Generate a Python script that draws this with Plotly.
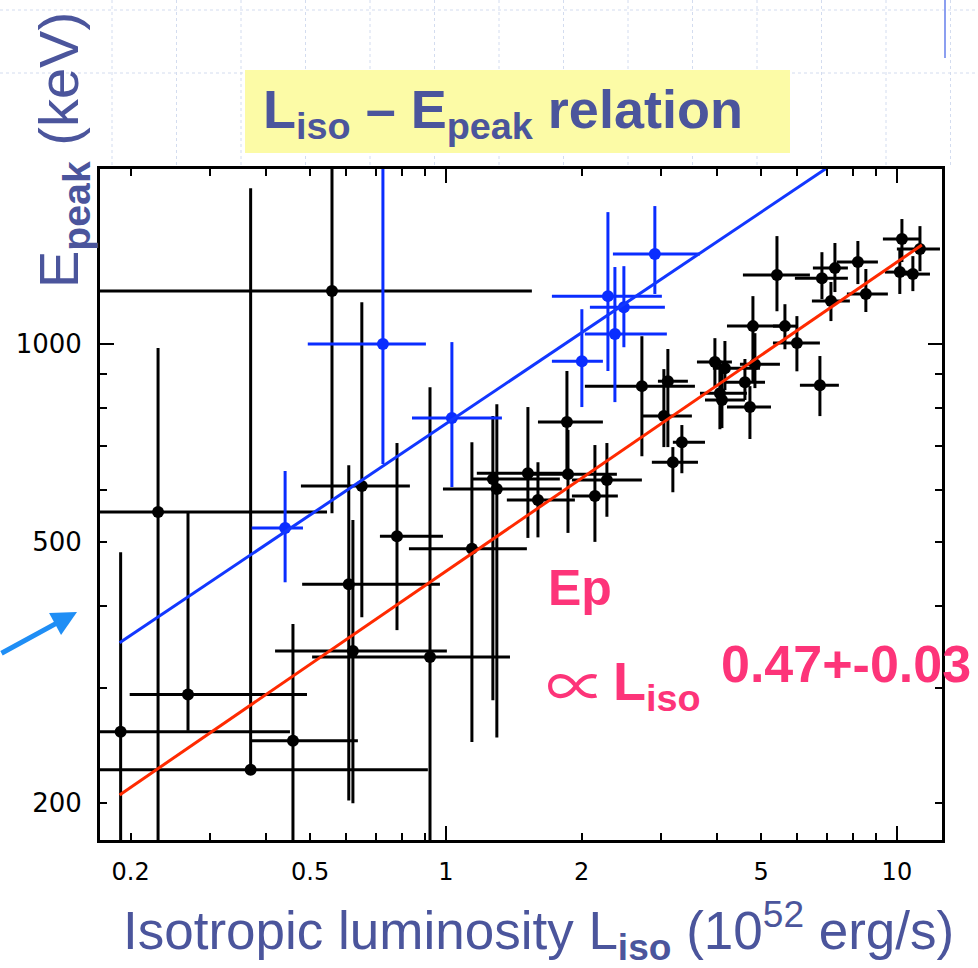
import numpy as np
import plotly.graph_objects as go

# ---- GRB sample without redshift constraints (black): L_iso in 1e52 erg/s, E_peak in keV
lum = [0.559, 0.369, 0.230, 0.651, 0.609, 0.622, 0.922, 0.268, 0.190, 0.458,
       0.779, 1.142, 1.271, 1.297, 1.855, 1.865, 1.520, 1.600, 2.140, 2.275,
       2.720, 3.106, 3.043, 3.336, 3.186, 3.949, 4.156, 4.603, 4.051, 4.093,
       4.722, 4.795, 4.844, 5.421, 6.820, 7.288, 8.194, 7.141, 8.535, 10.26,
       11.25, 10.15, 10.85, 5.646, 6.002, 6.750]
lum_lo = [0.15, 0.15, 0.15, 0.477, 0.480, 0.418, 0.505, 0.199, 0.15, 0.371,
          0.714, 0.828, 1.148, 0.985, 1.600, 1.520, 1.171, 1.365, 1.903, 1.903,
          2.033, 2.952, 2.734, 3.186, 2.862, 3.603, 3.908, 4.156, 3.659, 3.754,
          4.200, 4.200, 4.487, 4.556, 5.941, 6.513, 7.362, 6.480, 7.747, 9.311,
          10.0, 9.406, 10.15, 5.311, 5.311, 6.095]
lum_hi = [1.551, 0.912, 0.545, 0.832, 0.970, 1.005, 1.387, 0.492, 0.451, 0.638,
          0.985, 1.512, 1.789, 1.807, 2.229, 2.394, 1.865, 1.932, 2.406, 2.720,
          3.566, 3.440, 3.511, 3.754, 3.622, 4.307, 4.970, 5.100, 4.650, 4.603,
          5.258, 5.589, 5.504, 6.414, 7.787, 7.787, 9.077, 7.866, 9.551, 11.25,
          12.46, 10.69, 11.84, 6.002, 6.750, 7.437]
epeak = [1204, 225, 555, 608, 431, 341, 334, 293, 257, 249,
         510, 488, 623, 602, 761, 634, 636, 579, 587, 621,
         863, 878, 777, 709, 661, 939, 919, 875, 842, 822,
         802, 1065, 932, 1274, 1260, 1305, 1333, 1163, 1192, 1445,
         1395, 1287, 1278, 1065, 1004, 866]
epeak_lo = [553, 225, 150, 384, 202, 200, 150, 258, 150, 150,
            367, 248, 287, 252, 643, 516, 507, 508, 500, 546,
            675, 697, 697, 636, 595, 860, 851, 822, 742, 745,
            717, 875, 857, 1122, 1171, 1200, 1234, 1084, 1119, 1333,
            1291, 1192, 1204, 982, 909, 777]
epeak_hi = [2100, 1727, 986, 1158, 654, 540, 860, 557, 482, 375,
            707, 709, 777, 810, 910, 740, 802, 661, 702, 707,
            1028, 983, 916, 753, 697, 1021, 1011, 949, 945, 929,
            863, 1183, 1039, 1460, 1380, 1425, 1435, 1243, 1301, 1550,
            1512, 1395, 1361, 1150, 1103, 959]

# ---- second population (blue)
lum_b = [0.440, 0.725, 1.031, 2.002, 2.287, 2.481, 2.370, 2.906]
lum_b_lo = [0.371, 0.494, 0.841, 1.718, 1.718, 2.086, 2.033, 2.346]
lum_b_hi = [0.482, 0.903, 1.331, 2.229, 3.012, 3.059, 3.090, 3.659]
epeak_b = [525, 1000, 772, 942, 1183, 1138, 1036, 1371]
epeak_b_lo = [434, 657, 606, 802, 910, 989, 816, 1192]
epeak_b_hi = [641, 2100, 1007, 1130, 1588, 1314, 1310, 1622]

# ---- best-fit power laws (end points)
fit_red_l = [0.189, 11.36]
fit_red_e = [206, 1415]
fit_blue_l = [0.189, 8.0]
fit_blue_e = [351, 1972]

# ---- axis ticks
x_major = [0.2, 0.5, 1, 2, 5, 10]
x_major_text = ["0.2", "0.5", "1", "2", "5", "10"]
x_minor = [0.3, 0.4, 0.6, 0.7, 0.8, 0.9, 3, 4, 6, 7, 8, 9]
y_major = [200, 500, 1000]
y_major_text = ["200", "500", "1000"]
y_minor = [300, 400, 600, 700, 800, 900]

SLATE = "#4b559c"
PINK = "#fd3479"
W, H = 978, 968
ML, MR, MT, MB = 100, 36, 169, 128
PW, PH = W - ML - MR, H - MT - MB


def fx(p):
    return (p - ML) / PW


def fy(p):
    return 1 - (p - MT) / PH


def errs(v, lo, hi):
    v, lo, hi = np.array(v), np.array(lo), np.array(hi)
    return (hi - v).tolist(), (v - lo).tolist()


fig = go.Figure()

ex_p, ex_m = errs(lum, lum_lo, lum_hi)
ey_p, ey_m = errs(epeak, epeak_lo, epeak_hi)
fig.add_trace(go.Scatter(
    x=lum, y=epeak, mode="markers",
    marker=dict(color="black", size=12),
    error_x=dict(type="data", symmetric=False, array=ex_p, arrayminus=ex_m,
                 color="black", thickness=3, width=0),
    error_y=dict(type="data", symmetric=False, array=ey_p, arrayminus=ey_m,
                 color="black", thickness=3, width=0),
    showlegend=False))

bx_p, bx_m = errs(lum_b, lum_b_lo, lum_b_hi)
by_p, by_m = errs(epeak_b, epeak_b_lo, epeak_b_hi)
fig.add_trace(go.Scatter(
    x=lum_b, y=epeak_b, mode="markers",
    marker=dict(color="#0a2dff", size=12),
    error_x=dict(type="data", symmetric=False, array=bx_p, arrayminus=bx_m,
                 color="#0a2dff", thickness=3, width=0),
    error_y=dict(type="data", symmetric=False, array=by_p, arrayminus=by_m,
                 color="#0a2dff", thickness=3, width=0),
    showlegend=False))

fig.add_trace(go.Scatter(x=fit_blue_l, y=fit_blue_e, mode="lines",
                         line=dict(color="#1237ff", width=3), showlegend=False))
fig.add_trace(go.Scatter(x=fit_red_l, y=fit_red_e, mode="lines",
                         line=dict(color="#ff2a00", width=3), showlegend=False))

xr = [np.log10(0.171), np.log10(12.59)]
yr = [np.log10(175.9), np.log10(1847)]
xtickfont = dict(family="DejaVu Sans, sans-serif", size=24, color="black")
ytickfont = dict(family="DejaVu Sans, sans-serif", size=26, color="black")

common = dict(type="log", showgrid=False, zeroline=False, ticks="inside",
              tickcolor="black", tickwidth=2)
fig.update_layout(
    xaxis=dict(range=xr, tickvals=x_major, ticktext=x_major_text, ticklen=7,
               showline=True, linecolor="black", linewidth=3, mirror="allticks",
               tickfont=xtickfont, ticklabelstandoff=8,
               minor=dict(tickvals=x_minor, ticks="inside", ticklen=7,
                          tickwidth=2, tickcolor="black"), **common),
    yaxis=dict(range=yr, tickvals=y_major, ticktext=y_major_text, ticklen=7,
               showline=True, linecolor="black", linewidth=3, mirror="allticks",
               tickfont=ytickfont, ticklabelstandoff=10,
               minor=dict(tickvals=y_minor, ticks="inside", ticklen=7,
                          tickwidth=2, tickcolor="black"), **common),
    # decade ticks drawn longer
    xaxis2=dict(range=xr, overlaying="x", anchor="y", side="bottom",
                tickvals=[1, 10], ticklen=14, showticklabels=False,
                mirror="ticks", showline=False, **common),
    yaxis2=dict(range=yr, overlaying="y", anchor="x", side="left",
                tickvals=[1000], ticklen=14, showticklabels=False,
                mirror="ticks", showline=False, **common),
)
fig.add_trace(go.Scatter(x=[1], y=[1000], xaxis="x2", yaxis="y2", mode="markers",
                         marker=dict(opacity=0), hoverinfo="skip", showlegend=False))

shapes = []
# faint dotted slide pattern in the header band
for k in range(15):
    xp = 112 + 64.5 * k
    shapes.append(dict(type="line", xref="paper", yref="paper",
                       x0=fx(xp), x1=fx(xp), y0=fy(165), y1=fy(0),
                       line=dict(color="#d3dcef", width=1, dash="dot"), layer="below"))
for yp in (10, 73):
    shapes.append(dict(type="line", xref="paper", yref="paper",
                       x0=fx(0), x1=fx(W), y0=fy(yp), y1=fy(yp),
                       line=dict(color="#d3dcef", width=1, dash="dot"), layer="below"))
shapes.append(dict(type="line", xref="paper", yref="paper",
                   x0=fx(945), x1=fx(945), y0=fy(58), y1=fy(0),
                   line=dict(color="#8c9ff0", width=2)))
# title box
shapes.append(dict(type="rect", xref="paper", yref="paper",
                   x0=fx(245), x1=fx(790), y0=fy(153), y1=fy(70),
                   fillcolor="#fcfba6", line=dict(width=0)))

font_main = "Liberation Sans, Arial, sans-serif"
ann = [
    dict(text="<b>L<sub>iso</sub> – E<sub>peak</sub> relation</b>",
         x=fx(503), y=fy(113), font=dict(family=font_main, size=54, color=SLATE)),
    dict(text="E<sub><b>peak</b></sub> (keV)", textangle=-90,
         x=fx(62), y=fy(150), font=dict(family=font_main, size=56, color=SLATE)),
    dict(text="Isotropic luminosity L<sub><b>iso</b></sub> (10<sup>52</sup> erg/s)",
         x=fx(538), y=fy(930), font=dict(family=font_main, size=53, color=SLATE)),
    dict(text="<b>Ep</b>", x=fx(546), y=fy(588), xanchor="left",
         font=dict(family=font_main, size=50, color=PINK)),
    dict(text="∝", x=fx(544), y=fy(682), xanchor="left",
         font=dict(family="Noto Sans CJK JP, DejaVu Sans, sans-serif", size=60,
                   color=PINK)),
    dict(text="<b>L<sub>iso</sub></b>", x=fx(611), y=fy(685), xanchor="left",
         font=dict(family=font_main, size=54, color=PINK)),
    dict(text="<b>0.47+-0.03</b>", x=fx(719), y=fy(664), xanchor="left",
         font=dict(family=font_main, size=52, color=PINK)),
]
annotations = []
for a in ann:
    a.setdefault("xanchor", "center")
    annotations.append(dict(xref="paper", yref="paper", showarrow=False,
                            yanchor="middle", **a))
annotations.append(dict(xref="paper", yref="paper", x=fx(77), y=fy(612),
                        ax=-80, ay=42, showarrow=True, arrowhead=2, arrowsize=1,
                        arrowwidth=5, arrowcolor="#1f8ef5", text=""))

fig.update_layout(
    width=W, height=H, margin=dict(l=ML, r=MR, t=MT, b=MB),
    paper_bgcolor="white", plot_bgcolor="white",
    shapes=shapes, annotations=annotations, showlegend=False,
)

fig.write_html("out.html")
